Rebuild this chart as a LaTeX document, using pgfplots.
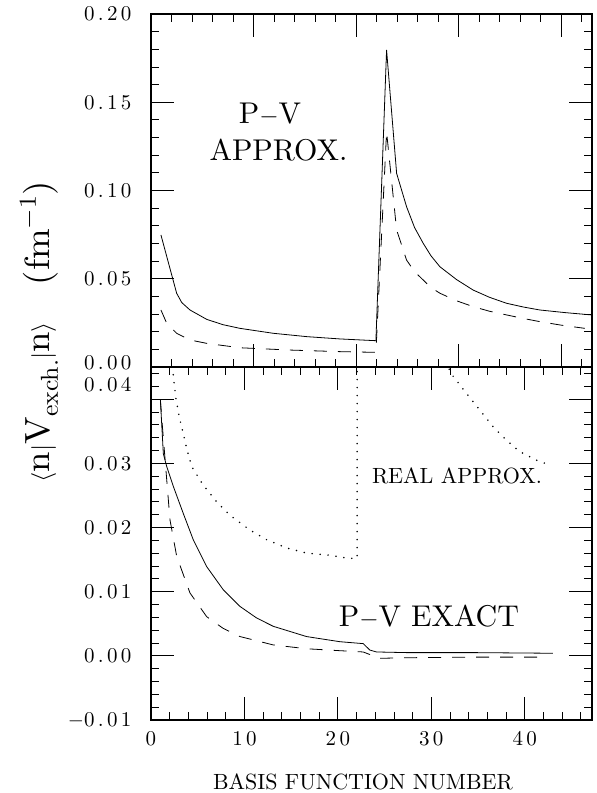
\documentclass[border=0pt]{standalone}
\usepackage{fontspec}
\setmainfont{lmroman10-regular.otf}
\usepackage{graphicx}
\usepackage{pgfplots}
\pgfplotsset{compat=1.18}

\pgfplotsset{
  panel/.style={
    scale only axis, width=441pt, height=353pt,
    tick pos=both, tick align=inside,
    major tick length=23pt, minor tick length=8pt,
    every tick/.style={black, line width=0.8pt},
    axis line style={line width=1.2pt},
    scaled ticks=false,
    tick label style={font=\fontsize{21}{21}\selectfont\addfontfeatures{LetterSpace=16}},
    yticklabel style={xshift=-16pt},
    xticklabel style={yshift=-8pt},
    clip=true,
  },
  solidc/.style={black, line width=0.8pt, mark=none},
  dashedc/.style={black, line width=0.8pt, mark=none, dash pattern=on 13pt off 11pt},
  dottedc/.style={black, line width=1.7pt, mark=none, line cap=round, dash pattern=on 0pt off 8pt},
}

\begin{document}
\begin{tikzpicture}
\useasboundingbox (-151pt,-73pt) rectangle (446pt,720pt);

% ---------------- bottom panel ----------------
\begin{axis}[panel, at={(0pt,0pt)}, anchor=south west,
  xmin=0, xmax=47.2, ymin=-0.01, ymax=0.045,
  xtick={0,10,20,30,40}, xticklabels={0,10,20,30,40},
  minor xtick={2,4,6,8,12,14,16,18,22,24,26,28,32,34,36,38,42,44,46},
  ytick={-0.01,0,0.01,0.02,0.03,0.04},
  yticklabels={$-$0.01,0.00,0.01,0.02,0.03,\raisebox{7.5pt}[0pt][0pt]{0.04}},
  minor ytick={-0.008,-0.006,-0.004,-0.002,0.002,0.004,0.006,0.008,0.012,0.014,0.016,0.018,0.022,0.024,0.026,0.028,0.032,0.034,0.036,0.038,0.042,0.044},
]
% P-V exact, solid
\addplot[solidc] coordinates {
(1.0,0.0400) (1.32,0.0315) (1.68,0.0295) (2.39,0.0264) (3.45,0.0222) (4.52,0.0181)
(5.96,0.0139) (7.73,0.0103) (9.52,0.0077) (11.3,0.0059) (13.08,0.0046) (16.65,0.0030)
(20.21,0.0022) (22.71,0.0019) (23.42,0.0009) (24.14,0.0006) (27.35,0.0005) (34.47,0.0005) (43.0,0.0004)
};
% dashed
\addplot[dashedc] coordinates {
(1.0,0.0400) (1.14,0.0372) (2.03,0.0212) (2.75,0.0155) (4.17,0.0098) (5.96,0.0061)
(7.7,0.0043) (9.52,0.0030) (13.08,0.0017) (16.65,0.0011) (20.21,0.0008) (22.71,0.0006)
(23.42,0.0002) (24.14,-0.0004) (27.35,-0.0003) (34.47,-0.0002) (41.9,-0.0002)
};
% real approx, dotted
\addplot[dottedc] coordinates {
(2.0,0.0550) (2.39,0.0435) (2.67,0.0401) (3.03,0.0372) (3.82,0.0323) (4.35,0.0295)
(5.59,0.0266) (7.03,0.0240) (8.45,0.0219) (10.59,0.0196) (12.37,0.0181) (14.51,0.0168)
(16.65,0.0160) (18.96,0.0157) (21.1,0.0152) (22.06,0.0152)
(22.07,0.0900) (26.0,0.0650) (30.0,0.0500) (32.26,0.0437) (33.76,0.0409) (35.19,0.0383)
(36.61,0.0357) (38.04,0.0336) (39.47,0.0318) (41.25,0.0305) (42.86,0.0296)
};
\node[anchor=base, font=\fontsize{22}{22}\selectfont] at (axis cs:32.75,0.0269) {REAL APPROX.};
\node[anchor=base, font=\fontsize{30}{30}\selectfont] at (axis cs:29.75,0.00456) {P$-$V EXACT};
\end{axis}

% ---------------- top panel ----------------
\begin{axis}[panel, at={(0pt,353pt)}, anchor=south west,
  xmin=0, xmax=43, ymin=0, ymax=0.2,
  xtick={0,10,20,30,40}, xticklabels={},
  minor xtick={2,4,6,8,12,14,16,18,22,24,26,28,32,34,36,38,42},
  ytick={0,0.05,0.1,0.15,0.2},
  yticklabels={\raisebox{-2.5pt}[0pt][0pt]{0.00},0.05,0.10,0.15,0.20},
  minor ytick={0.01,0.02,0.03,0.04,0.06,0.07,0.08,0.09,0.11,0.12,0.13,0.14,0.16,0.17,0.18,0.19},
]
\addplot[solidc] coordinates {
(0.97,0.0748) (2.5,0.0418) (3.0,0.0365) (3.8,0.0323) (5.43,0.0270) (7.0,0.0240) (8.67,0.0219)
(11.92,0.0191) (15.18,0.0172) (18.42,0.0159) (21.93,0.0149)
(22.97,0.1796) (23.95,0.1097) (24.92,0.0908) (25.7,0.0790) (26.54,0.0701) (27.3,0.0630)
(28.17,0.0568) (29.8,0.0495) (31.41,0.0436) (33.0,0.0395) (34.67,0.0361) (36.3,0.0340)
(37.91,0.0323) (40.4,0.0308) (42.95,0.0295)
};
\addplot[dashedc] coordinates {
(0.97,0.0323) (1.53,0.0248) (2.5,0.0191) (3.8,0.0153) (5.43,0.0134) (8.67,0.0109)
(13.55,0.0096) (18.42,0.0087) (21.93,0.0083)
(22.97,0.1333) (23.95,0.0776) (24.92,0.0606) (25.7,0.0540) (26.54,0.0493) (27.3,0.0450)
(28.17,0.0418) (29.8,0.0375) (31.41,0.0342) (33.0,0.0316) (34.67,0.0295) (36.3,0.0275)
(37.91,0.0257) (40.0,0.0237) (42.3,0.0219)
};
\node[anchor=base, font=\fontsize{30}{30}\selectfont] at (axis cs:11.6,0.138) {P$-$V};
\node[anchor=base, font=\fontsize{30}{30}\selectfont] at (axis cs:12.43,0.117) {APPROX.};
\end{axis}

% axis titles
\node[rotate=90, font=\fontsize{35}{35}\selectfont] at (-112pt,388pt)
  {\scalebox{1.05}[1]{$\langle$n$|$V\raisebox{-8pt}{\fontsize{24.5}{24.5}\selectfont exch.}$|$n$\rangle$\quad(fm\raisebox{14pt}{\fontsize{24.5}{24.5}\selectfont $-$1})}};
\node[font=\fontsize{22}{22}\selectfont] at (212pt,-62pt) {BASIS FUNCTION NUMBER};
\end{tikzpicture}
\end{document}
